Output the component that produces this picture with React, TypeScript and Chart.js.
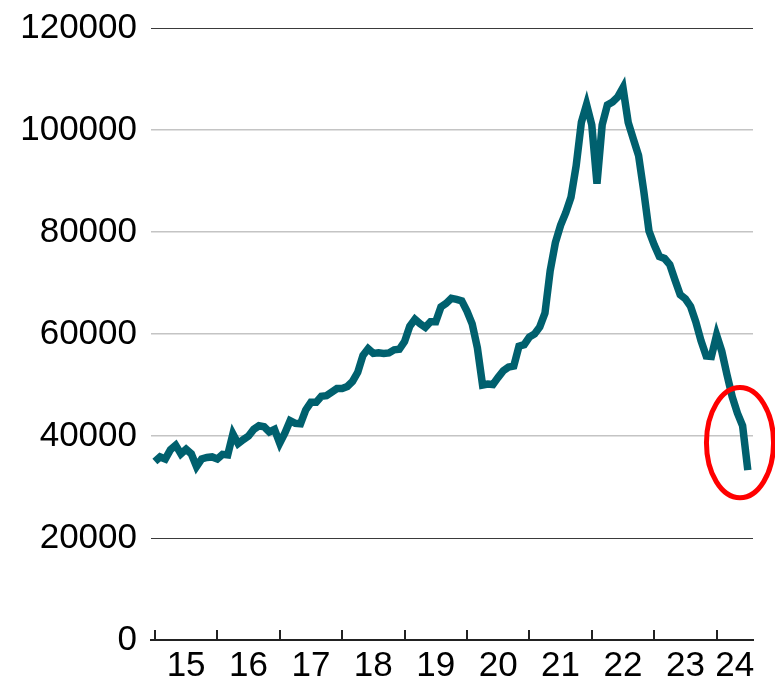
import React, { useEffect, useRef } from 'react';
import { Chart, registerables } from 'chart.js';

Chart.register(...registerables);

// Year labels shown between the yearly tick marks (x axis is in months since Jan 2015)
const yearLabels = ['15', '16', '17', '18', '19', '20', '21', '22', '23', '24'];
const monthsPerYear = 12;
const xMin = -0.75;
const xMax = 115;

// Monthly values, Jan 2015 onwards
const values = [
  35000, 35900, 35500, 37300, 38200, 36500, 37400, 36500, 34000, 35500, 35800, 35900,
  35500, 36400, 36300, 40400, 38500, 39300, 40000, 41300, 42000, 41800, 40800, 41300,
  38600, 40600, 43000, 42500, 42400, 45100, 46600, 46600, 47800, 47900, 48600, 49300,
  49300, 49700, 50700, 52500, 55800, 57100, 56200, 56300, 56200, 56300, 56900, 57000,
  58500, 61500, 62900, 62000, 61300, 62400, 62400, 65300, 66000, 67000, 66800, 66500,
  64500, 62000, 57300, 50000, 50200, 50100, 51500, 52800, 53500, 53700, 57600, 57900,
  59400, 60000, 61400, 64100, 72400, 77900, 81300, 83800, 86800, 93000, 101500, 105000,
  101000, 89500, 101000, 104900, 105500, 106500, 108300, 101500, 98200, 95000, 88000, 80200,
  77500, 75200, 74800, 73600, 70600, 67700, 66900, 65400, 62400, 58700, 55700, 55600,
  59800, 56600, 52000, 47700, 44500, 42000, 33300,
];

const yMin = 0;
const yMax = 120000;
const yStep = 20000;
const darkGridValues = [120000, 20000];

// Highlight ellipse in data units (month index, value)
const highlight = { x: 112.5, y: 38700, rx: 6.45, ry: 10800 };

const FONT = "'Liberation Sans', Arial, sans-serif";

export default function App() {
  const ref = useRef<HTMLCanvasElement>(null);

  useEffect(() => {
    if (!ref.current) return;
    const data = values.map((v, i) => ({ x: i, y: v }));
    const labelPositions = yearLabels.map((_, k) => {
      const a = k * monthsPerYear;
      const b = Math.min(a + monthsPerYear, xMax);
      return (a + b) / 2;
    });

    const tickPlugin = {
      id: 'yearTicks',
      afterDraw(chart: any) {
        const ctx = chart.ctx;
        const xs = chart.scales.x;
        ctx.save();
        ctx.strokeStyle = '#222';
        ctx.lineWidth = 2;
        ctx.beginPath();
        yearLabels.forEach((_, k) => {
          const px = Math.round(xs.getPixelForValue(k * monthsPerYear));
          ctx.moveTo(px, xs.top);
          ctx.lineTo(px, xs.top - 10);
        });
        ctx.stroke();
        // highlight ellipse
        const ys = chart.scales.y;
        const cx = xs.getPixelForValue(highlight.x);
        const cy = ys.getPixelForValue(highlight.y);
        const rx = xs.getPixelForValue(highlight.x + highlight.rx) - cx;
        const ry = cy - ys.getPixelForValue(highlight.y + highlight.ry);
        ctx.beginPath();
        ctx.ellipse(cx, cy, rx, ry, 0, 0, Math.PI * 2);
        ctx.strokeStyle = '#ff0000';
        ctx.lineWidth = 5;
        ctx.stroke();
        ctx.restore();
      },
    };

    const chart = new Chart(ref.current, {
      type: 'line',
      data: {
        datasets: [
          {
            data,
            borderColor: '#00606e',
            borderWidth: 7.5,
            pointRadius: 0,
            tension: 0,
            fill: false,
          },
        ],
      },
      options: {
        responsive: false,
        animation: false,
        layout: { padding: { top: 28, right: 22, left: 0, bottom: 0 } },
        plugins: { legend: { display: false }, tooltip: { enabled: false } },
        scales: {
          x: {
            type: 'linear',
            min: xMin,
            max: xMax,
            afterBuildTicks: (scale: any) => {
              scale.ticks = labelPositions.map((v) => ({ value: v }));
            },
            afterFit: (scale: any) => {
              scale.height = 38;
            },
            ticks: {
              autoSkip: false,
              maxRotation: 0,
              padding: 5,
              color: '#000',
              font: { family: FONT, size: 35 },
              callback: (_v: any, i: number) => yearLabels[i],
            },
            grid: { display: false, drawTicks: false },
            border: { display: true, color: '#222', width: 2 },
          },
          y: {
            min: yMin,
            max: yMax,
            afterFit: (scale: any) => {
              scale.width = 151;
              scale.paddingTop = 0;
              scale.paddingBottom = 0;
            },
            ticks: {
              stepSize: yStep,
              padding: 14,
              color: '#000',
              font: { family: FONT, size: 35 },
              callback: (v: any) => String(v),
            },
            grid: {
              drawTicks: false,
              color: (ctx: any) => {
                const v = ctx.tick ? ctx.tick.value : null;
                if (v === 0) return 'rgba(0,0,0,0)';
                return darkGridValues.includes(v) ? '#3a3a3a' : '#c4c4c4';
              },
              lineWidth: (ctx: any) => {
                const v = ctx.tick ? ctx.tick.value : null;
                return darkGridValues.includes(v) ? 1 : 1.5;
              },
            },
            border: { display: false },
          },
        },
      },
      plugins: [tickPlugin],
    } as any);

    return () => chart.destroy();
  }, []);

  return (
    <div style={{ position: 'absolute', left: 0, top: 0, width: 775, height: 678, background: '#fff' }}>
      <canvas ref={ref} width={775} height={678} style={{ display: 'block' }} />
    </div>
  );
}
